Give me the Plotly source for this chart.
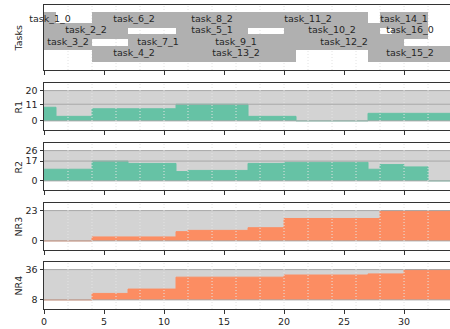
import plotly.graph_objects as go

# ---------------- data ----------------
X_END = 34

task_names = ["task_1_0", "task_6_2", "task_8_2", "task_11_2", "task_14_1",
              "task_2_2", "task_5_1", "task_10_2", "task_16_0",
              "task_3_2", "task_7_1", "task_9_1", "task_12_2",
              "task_4_2", "task_13_2", "task_15_2"]
task_start = [0, 4, 11, 17, 28, 0, 11, 20, 29, 0, 7, 12, 20, 4, 11, 27]
task_end = [1, 11, 17, 27, 32, 7, 17, 28, 32, 4, 12, 20, 30, 11, 21, 34]
task_row = [3, 3, 3, 3, 3, 2, 2, 2, 2, 1, 1, 1, 1, 0, 0, 0]

res_names = ["R1", "R2", "NR3", "NR4"]
res_base = [0, 0, 0, 8]
res_cap = [20, 26, 23, 36]

r1_times = [0, 1, 4, 11, 17, 21, 27]
r1_vals = [9, 3, 8, 11, 3, 0, 5]
r2_times = [0, 4, 7, 11, 12, 17, 20, 27, 28, 30, 32]
r2_vals = [10, 17, 15, 8, 9, 15, 16, 10, 14, 12, 0]
nr3_times = [0, 4, 11, 12, 17, 20, 28]
nr3_vals = [0, 3, 7, 8, 10, 17, 23]
nr4_times = [0, 4, 7, 11, 20, 27, 30]
nr4_vals = [8, 14, 18, 29, 31, 32, 36]

res_times = [r1_times, r2_times, nr3_times, nr4_times]
res_vals = [r1_vals, r2_vals, nr3_vals, nr4_vals]
res_colors = ["#66c2a5", "#66c2a5", "#fc8d62", "#fc8d62"]

x_ticks = [0, 5, 10, 15, 20, 25, 30]

# ---------------- style ----------------
FONT = "DejaVu Sans"
TXT = "#262626"
SPINE = "#333333"
FS = 9.5
X_MAX = 33.83

W, H = 450, 329
ML, MT, MB = 44, 5, 20
plot_h = H - MT - MB
bottom_px = H - MB


def dom(top, bot):
    return [(bottom_px - bot) / plot_h, (bottom_px - top) / plot_h]


domains = [dom(5, 70), dom(83, 130), dom(143, 190), dom(203, 250), dom(262, 309)]

fig = go.Figure()

# Tasks panel
fig.add_trace(go.Bar(
    orientation="h",
    base=task_start,
    x=[e - s for s, e in zip(task_start, task_end)],
    y=task_row,
    width=1.41,
    marker=dict(color="#b0b0b0", line=dict(width=0)),
    xaxis="x", yaxis="y", hoverinfo="skip", showlegend=False,
))
fig.add_trace(go.Scatter(
    x=[(s + e) / 2 for s, e in zip(task_start, task_end)],
    y=task_row,
    text=task_names,
    mode="text",
    textposition="middle center",
    textfont=dict(family=FONT, size=FS, color=TXT),
    cliponaxis=False,
    xaxis="x", yaxis="y", hoverinfo="skip", showlegend=False,
))

shapes = []
annotations = []

layout = dict(
    template="none",
    width=W, height=H,
    margin=dict(l=ML, r=0, t=MT, b=MB, pad=0, autoexpand=False),
    paper_bgcolor="white", plot_bgcolor="white",
    font=dict(family=FONT, size=FS, color=TXT),
    showlegend=False,
    bargap=0,
)

axis_common_x = dict(
    range=[0, X_MAX], tickvals=x_ticks, ticks="outside", ticklen=3.5,
    tickcolor=SPINE, tickwidth=1, showline=True, mirror=True, linecolor=SPINE,
    linewidth=1, showgrid=False, zeroline=False, automargin=False,
    tickfont=dict(family=FONT, size=FS, color=TXT),
)
axis_common_y = dict(
    ticks="outside", ticklen=3.5, tickcolor=SPINE, tickwidth=1,
    showline=True, mirror=False, linecolor=SPINE, linewidth=1,
    showgrid=False, zeroline=False, automargin=False,
    tickfont=dict(family=FONT, size=FS, color=TXT),
)

# tasks axes
layout["xaxis"] = dict(axis_common_x, anchor="y", showticklabels=False)
layout["yaxis"] = dict(axis_common_y, domain=domains[0], range=[-1.43, 4.3],
                       showticklabels=False, ticks="")

grid_x = list(range(2, 33, 2))
for gx in grid_x:
    shapes.append(dict(type="line", xref="x", yref="y domain", x0=gx, x1=gx,
                       y0=0, y1=1, layer="below",
                       line=dict(color="#e2e2e2", width=1, dash="1px,2px")))

titles = ["Tasks"] + res_names
for i, t in enumerate(titles):
    d = domains[i]
    annotations.append(dict(text=t, xref="paper", yref="paper",
                            x=(18 - ML) / (W - ML), y=(d[0] + d[1]) / 2,
                            xanchor="center", yanchor="middle", textangle=-90,
                            showarrow=False,
                            font=dict(family=FONT, size=FS, color=TXT)))

for i in range(4):
    n = i + 2
    xa, ya = f"x{n}", f"y{n}"
    base, cap = res_base[i], res_cap[i]
    times, vals = res_times[i], res_vals[i]
    col = res_colors[i]
    # capacity band
    fig.add_trace(go.Scatter(x=[0, X_END], y=[base, base], mode="lines",
                             line=dict(width=0), xaxis=xa, yaxis=ya,
                             hoverinfo="skip", showlegend=False))
    fig.add_trace(go.Scatter(x=[0, X_END], y=[cap, cap], mode="lines",
                             line=dict(width=0), fill="tonexty",
                             fillcolor="#d3d3d3", xaxis=xa, yaxis=ya,
                             hoverinfo="skip", showlegend=False))
    # usage
    fig.add_trace(go.Scatter(x=[0, X_END], y=[base, base], mode="lines",
                             line=dict(width=0), xaxis=xa, yaxis=ya,
                             hoverinfo="skip", showlegend=False))
    fig.add_trace(go.Scatter(x=list(times) + [X_END], y=list(vals) + [vals[-1]],
                             mode="lines", line=dict(shape="hv", color=col, width=1),
                             fill="tonexty", fillcolor=col, xaxis=xa, yaxis=ya,
                             hoverinfo="skip", showlegend=False))
    ticks = sorted(set([base, max(vals), cap]))
    span = cap - base
    layout[f"xaxis{n}"] = dict(axis_common_x, anchor=ya,
                               showticklabels=(n == 5))
    layout[f"yaxis{n}"] = dict(axis_common_y, anchor=xa, domain=domains[i + 1],
                               range=[base - 0.3 * span, base + 1.25 * span],
                               tickvals=ticks)
    for tv in ticks:
        shapes.append(dict(type="line", xref=f"{xa} domain", yref=ya,
                           x0=0, x1=1, y0=tv, y1=tv, layer="above",
                           line=dict(color="#a8a8a8", width=1)))
    for gx in grid_x:
        shapes.append(dict(type="line", xref=xa, yref=f"{ya} domain",
                           x0=gx, x1=gx, y0=0, y1=1, layer="above",
                           line=dict(color="#e4e4e4", width=1, dash="1px,2px")))

layout["shapes"] = shapes
layout["annotations"] = annotations
fig.update_layout(**layout)
fig.write_html(
    "out.html",
    config={"displayModeBar": False, "staticPlot": True},
    post_script="document.body.style.margin='0';document.body.style.overflow='hidden';",
)
